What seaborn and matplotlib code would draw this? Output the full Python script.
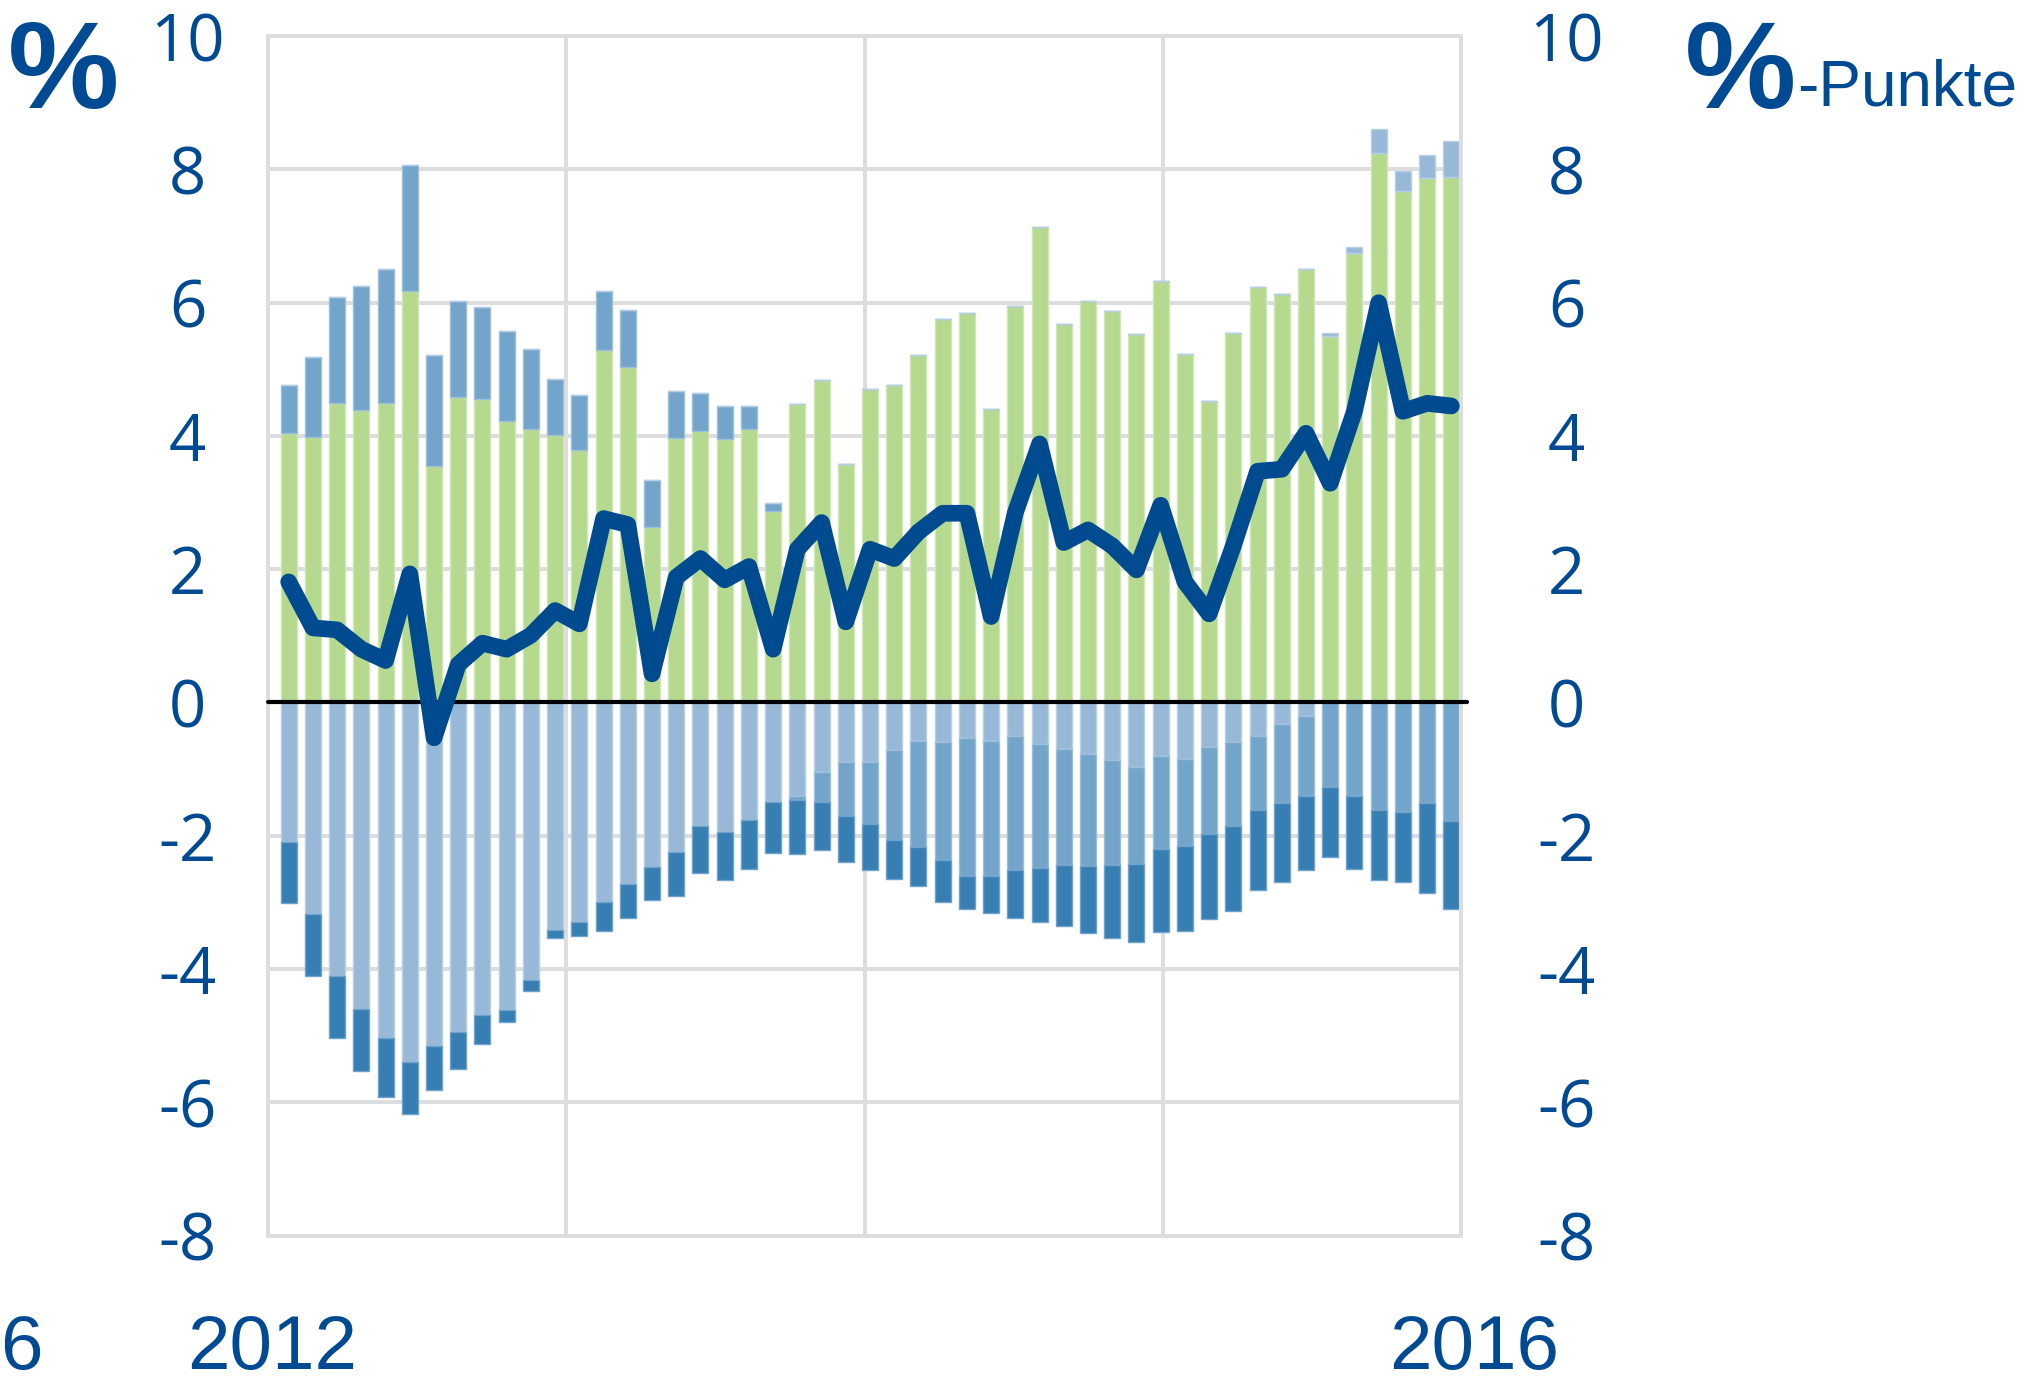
import numpy as np
import pandas as pd
import seaborn as sns
from matplotlib import pyplot as plt

# monthly values, Jan 2012 .. Jan 2016 (49 bars)
green = [4.04, 3.98, 4.49, 4.39, 4.49, 6.17, 3.55, 4.59, 4.56, 4.22,
         4.10, 4.01, 3.79, 5.29, 5.03, 2.64, 3.97, 4.07, 3.95, 4.11,
         2.88, 4.48, 4.84, 3.58, 4.71, 4.76, 5.21, 5.75, 5.84, 4.40,
         5.95, 7.14, 5.68, 6.03, 5.87, 5.53, 6.33, 5.23, 4.52, 5.55,
         6.24, 6.13, 6.51, 5.50, 6.74, 8.24, 7.68, 7.87, 7.89]
mid_blue = [0.73, 1.21, 1.60, 1.86, 2.02, 1.89, 1.67, 1.44, 1.38, 1.35,
            1.20, 0.85, 0.82, 0.88, 0.86, 0.70, 0.71, 0.57, 0.50, 0.34,
            0.11, -0.06, -0.45, -0.80, -0.92, -1.35, -1.59, -1.77, -2.07, -2.02,
            -2.00, -1.86, -1.74, -1.68, -1.58, -1.45, -1.40, -1.31, -1.30, -1.27,
            -1.11, -1.18, -1.19, -1.27, -1.40, -1.62, -1.65, -1.51, -1.78]
light_blue = [-2.10, -3.18, -4.10, -4.60, -5.04, -5.39, -5.16, -4.94, -4.69, -4.61,
              -4.16, -3.41, -3.30, -2.99, -2.73, -2.47, -2.25, -1.85, -1.94, -1.76,
              -1.49, -1.40, -1.04, -0.90, -0.90, -0.71, -0.58, -0.59, -0.53, -0.58,
              -0.51, -0.62, -0.70, -0.77, -0.86, -0.97, -0.80, -0.85, -0.67, -0.59,
              -0.50, -0.33, -0.21, 0.04, 0.09, 0.37, 0.29, 0.35, 0.54]
dark_blue = [-0.91, -0.92, -0.94, -0.93, -0.88, -0.79, -0.65, -0.56, -0.43, -0.19,
             -0.17, -0.13, -0.21, -0.44, -0.50, -0.50, -0.65, -0.71, -0.73, -0.74,
             -0.77, -0.81, -0.72, -0.70, -0.70, -0.59, -0.59, -0.63, -0.50, -0.56,
             -0.73, -0.81, -0.91, -1.01, -1.10, -1.18, -1.25, -1.27, -1.28, -1.27,
             -1.21, -1.19, -1.12, -1.05, -1.10, -1.05, -1.04, -1.35, -1.32]
rate = [1.81, 1.12, 1.09, 0.80, 0.63, 1.93, -0.53, 0.57, 0.89, 0.80,
        1.01, 1.38, 1.18, 2.76, 2.67, 0.43, 1.88, 2.16, 1.84, 2.04,
        0.80, 2.30, 2.70, 1.21, 2.30, 2.16, 2.56, 2.84, 2.84, 1.29,
        2.85, 3.88, 2.40, 2.59, 2.35, 1.99, 2.96, 1.81, 1.33, 2.35,
        3.47, 3.50, 4.04, 3.29, 4.37, 6.00, 4.37, 4.49, 4.45]

y_ticks = [-8, -6, -4, -2, 0, 2, 4, 6, 8, 10]
y_labels = ["-8", "-6", "-4", "-2", "0", "2", "4", "6", "8", "10"]
year_labels = ["2012", "2016"]

df = pd.DataFrame({"pos": np.arange(len(green)), "green": green, "mid": mid_blue,
                   "light": light_blue, "dark": dark_blue, "rate": rate})

TXT = "#004a93"
GRID = "#dcdddf"
colors = {"green": "#b5d98e", "mid": "#73a4c9", "light": "#97b9d7", "dark": "#377eb2"}
edges = {"green": "#cfe7b5", "mid": "#9cc0dc", "light": "#b8d0e6", "dark": "#6fa2cc"}

sns.set_theme(style="white")
plt.rcParams["font.family"] = ["Open Sans", "DejaVu Sans"]

fig = plt.figure(figsize=(20.32, 13.85), dpi=100)
ax = fig.add_axes([0.1319, 0.1079, 0.5871, 0.8660])

xlim = (-0.854, 48.40)
ax.set_xlim(*xlim)
ax.set_ylim(-8, 10)

# stacked bars: positives go up green -> mid -> light, negatives down light -> mid -> dark
w = 0.66
pos_base = np.zeros(len(df))
for key in ["green", "mid", "light"]:
    v = np.clip(df[key].values, 0, None)
    ax.bar(df["pos"], v, bottom=pos_base, width=w, color=colors[key],
           edgecolor=edges[key], linewidth=1.0, zorder=2)
    pos_base += v
neg_base = np.zeros(len(df))
for key in ["light", "mid", "dark"]:
    v = np.clip(df[key].values, None, 0)
    ax.bar(df["pos"], v, bottom=neg_base, width=w, color=colors[key],
           edgecolor=edges[key], linewidth=1.0, zorder=2)
    neg_base += v

# zero line
ax.plot([xlim[0], xlim[1] + 0.25], [0, 0], color="black", lw=3, zorder=3, clip_on=False)

sns.lineplot(data=df, x="pos", y="rate", ax=ax, color="#004a8f", lw=12,
             zorder=4, solid_joinstyle="round", solid_capstyle="round")

# grid and frame
ax.set_xticks(np.linspace(xlim[0], xlim[1], 5))
ax.set_xticklabels([])
ax.tick_params(axis="x", length=0)
ax.grid(True, color=GRID, lw=2.8)
ax.set_axisbelow(True)
for sp in ax.spines.values():
    sp.set_color(GRID)
    sp.set_linewidth(2.8)
ax.set_xlabel("")
ax.set_ylabel("")

ax.set_yticks(y_ticks)
ax.set_yticklabels(y_labels)
ax.tick_params(axis="y", length=0, pad=58, labelsize=47, labelcolor=TXT)
for lab in ax.get_yticklabels():
    lab.set_horizontalalignment("center")

ax2 = ax.twinx()
ax2.set_ylim(-8, 10)
ax2.set_yticks(y_ticks)
ax2.set_yticklabels(y_labels)
ax2.tick_params(axis="y", length=0, pad=76, labelsize=47, labelcolor=TXT)
for lab in ax2.get_yticklabels():
    lab.set_horizontalalignment("center")
for sp in ax2.spines.values():
    sp.set_visible(False)
ax2.grid(False)

# unit labels
fig.text(8 / 2032, 1 - 108 / 1385, "%", fontsize=90, fontweight="bold", color=TXT,
         family="Liberation Sans", ha="left", va="baseline")
fig.text(1685 / 2032, 1 - 108 / 1385, "%", fontsize=90, fontweight="bold", color=TXT,
         family="Liberation Sans", ha="left", va="baseline")
fig.text(1797 / 2032, 1 - 106 / 1385, "-Punkte", fontsize=46, color=TXT,
         family="Liberation Sans", ha="left", va="baseline")

# year labels
fig.text(272 / 2032, 1 - 1369 / 1385, year_labels[0], fontsize=55, color=TXT,
         family="Liberation Sans", ha="center", va="baseline")
fig.text(1474 / 2032, 1 - 1369 / 1385, year_labels[1], fontsize=55, color=TXT,
         family="Liberation Sans", ha="center", va="baseline")
fig.text(0, 1 - 1369 / 1385, "6", fontsize=55, color=TXT,
         family="Liberation Sans", ha="left", va="baseline")

fig.savefig("out.png", dpi=100)
